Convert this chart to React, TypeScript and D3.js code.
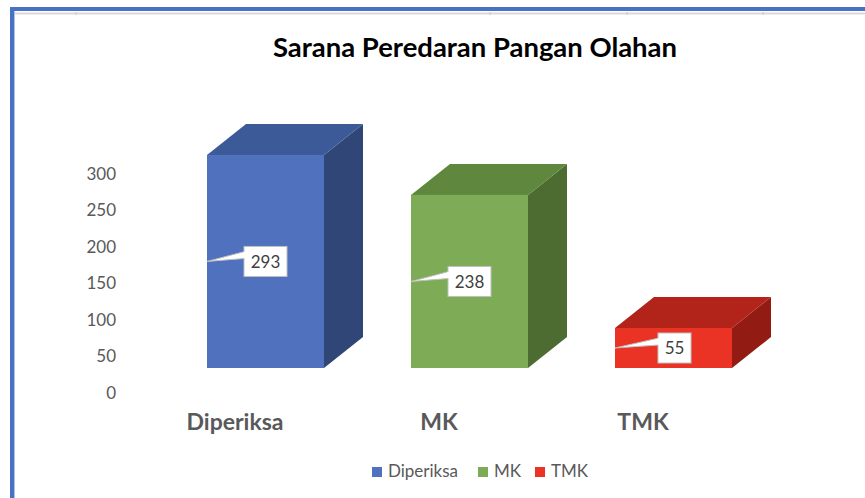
import React from "react";
import * as d3 from "d3";

const categories = ["Diperiksa", "MK", "TMK"];
const values = [293, 238, 55];
const tickValues = [0, 50, 100, 150, 200, 250, 300];
const title = "Sarana Peredaran Pangan Olahan";

const frontColors = ["#4F71BE", "#7EAB55", "#EA3324"];
const topColors = ["#3D5A98", "#5F883E", "#B2241A"];
const sideColors = ["#2F4677", "#4D6C32", "#921C13"];

const W = 865;
const H = 498;
const baseY = 368;
const barW = 117;
const depthX = 39;
const depthY = -31;
const FONT = "Lato, 'Open Sans', sans-serif";

export default function App() {
  const y = d3.scaleLinear().domain([0, 300]).range([baseY, baseY - 218.2]);
  const yAxis = d3.scaleLinear().domain([0, 300]).range([393, 174]);
  const x = d3.scalePoint<string>().domain(categories).range([207, 615]);

  const legendX = [372, 478, 535];

  return (
    <svg
      width={W}
      height={H}
      style={{ position: "absolute", left: 0, top: 0, background: "#fff" }}
    >
      {/* frame lines */}
      <line x1={14} x2={W} y1={13.5} y2={13.5} stroke="#D9D9D9" strokeWidth={2} />
      {[76, 490, 627, 763].map((tx) => (
        <line key={tx} x1={tx} x2={tx} y1={12} y2={15} stroke="#C8C8C8" strokeWidth={1} />
      ))}
      <rect x={10} y={7} width={W - 10} height={4} fill="#4A72C4" />
      <rect x={10} y={7} width={4} height={H - 7} fill="#4A72C4" />
      <line x1={14.5} x2={14.5} y1={11} y2={H} stroke="#AFC4EA" strokeWidth={1} />

      {/* title */}
      <text
        x={475}
        y={57}
        textAnchor="middle"
        fontFamily={FONT}
        fontWeight="bold"
        fontSize={27}
        textLength={404}
        lengthAdjust="spacingAndGlyphs"
        fill="#000"
      >
        {title}
      </text>

      {/* y axis labels */}
      {tickValues.map((t) => (
        <text
          key={t}
          x={116}
          y={yAxis(t)}
          dy="0.35em"
          textAnchor="end"
          fontFamily={FONT}
          fontSize={17}
          fill="#595959"
        >
          {t}
        </text>
      ))}

      {/* bars */}
      {categories.map((c, i) => {
        const x0 = x(c)!;
        const x1 = x0 + barW;
        const yt = y(values[i]);
        const yb = y(0);
        const top = `M${x0},${yt}L${x0 + depthX},${yt + depthY}L${x1 + depthX},${yt + depthY}L${x1},${yt}Z`;
        const side = `M${x1},${yt}L${x1 + depthX},${yt + depthY}L${x1 + depthX},${yb + depthY}L${x1},${yb}Z`;
        return (
          <g key={c}>
            <path d={side} fill={sideColors[i]} />
            <path d={top} fill={topColors[i]} />
            <rect x={x0} y={yt} width={barW} height={yb - yt} fill={frontColors[i]} />
          </g>
        );
      })}

      {/* data labels */}
      {categories.map((c, i) => {
        const x0 = x(c)!;
        const ym = (y(values[i]) + y(0)) / 2;
        const label = String(values[i]);
        const bw = label.length === 3 ? 43 : 33;
        const bx = x0 + (label.length === 3 ? 37 : 43);
        const by = ym - 15;
        const bh = 30;
        const wedge = `M${x0},${ym}L${bx + 1},${ym - 10}L${bx + 1},${ym - 3}Z`;
        return (
          <g key={c}>
            <path d={wedge} fill="#fff" stroke="#BFBFBF" strokeWidth={1} />
            <rect x={bx} y={by} width={bw} height={bh} fill="#fff" stroke="#BFBFBF" strokeWidth={1} />
            <rect x={bx - 1} y={ym - 9.5} width={3} height={6} fill="#fff" />
            <text
              x={bx + bw / 2}
              y={ym}
              dy="0.36em"
              textAnchor="middle"
              fontFamily={FONT}
              fontSize={17}
              fill="#404040"
            >
              {label}
            </text>
          </g>
        );
      })}

      {/* category labels */}
      {categories.map((c) => (
        <text
          key={c}
          x={x(c)! + 28}
          y={430}
          textAnchor="middle"
          fontFamily={FONT}
          fontWeight="bold"
          fontSize={23}
          fill="#595959"
        >
          {c}
        </text>
      ))}

      {/* legend */}
      {categories.map((c, i) => (
        <g key={c}>
          <rect x={legendX[i]} y={467} width={10} height={10} fill={frontColors[i]} />
          <text
            x={legendX[i] + 16}
            y={477}
            fontFamily={FONT}
            fontSize={17}
            fill="#595959"
          >
            {c}
          </text>
        </g>
      ))}
    </svg>
  );
}
